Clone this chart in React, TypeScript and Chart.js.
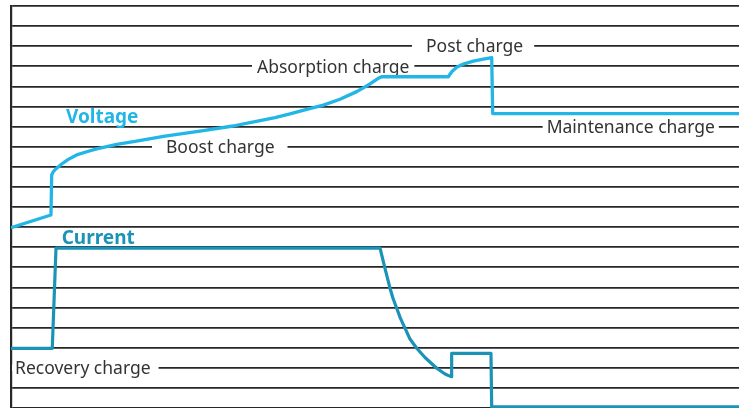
import React, { useEffect, useRef } from 'react';
import { Chart, registerables } from 'chart.js';

Chart.register(...registerables);

// Time axis (0–100 % of the charge cycle), level axis (0–20 grid steps)
const voltageTime = [0, 5.49, 5.59, 5.81, 6.28, 6.96, 7.87, 9.02, 10.4, 11.77, 13.15, 14.52, 17.03, 21.15, 25.96, 30.49, 32.83, 36.26, 38.32, 40.62, 42.9, 45.19, 47.49, 49.31, 50.45, 50.92, 60.07, 60.54, 61.22, 62.13, 63.5, 64.88, 66.03, 66.17, 100];
const voltageLevel = [8.97, 9.6, 11.59, 11.76, 11.93, 12.14, 12.37, 12.59, 12.75, 12.89, 13.0, 13.12, 13.26, 13.53, 13.78, 14.03, 14.2, 14.45, 14.63, 14.86, 15.07, 15.36, 15.74, 16.12, 16.4, 16.48, 16.48, 16.73, 16.95, 17.11, 17.26, 17.36, 17.43, 14.65, 14.65];

const currentTime = [0, 5.67, 6.18, 50.69, 51.03, 51.37, 51.72, 52.06, 52.47, 52.98, 53.5, 54.12, 54.81, 55.73, 56.87, 58.48, 59.62, 60.44, 60.53, 65.93, 66.03, 100];
const currentLevel = [2.97, 2.97, 7.95, 7.95, 7.46, 6.95, 6.45, 5.96, 5.46, 4.96, 4.46, 3.97, 3.43, 2.97, 2.51, 1.98, 1.69, 1.56, 2.72, 2.72, 0.06, 0.06];

const stageNames = ['Absorption charge', 'Post charge', 'Boost charge', 'Maintenance charge', 'Recovery charge'];
const stageTime = [33.79, 57.01, 21.29, 73.58, 0.55];
const stageLevel = [17, 18, 13, 14, 2];

const seriesNames = ['Voltage', 'Current'];
const seriesNameTime = [7.55, 6.96];
const seriesNameLevel = [14.16, 8.16];

const LEVEL_MIN = 0;
const LEVEL_MAX = 20;

const VOLT_COLOR = '#22b6e6';
const CURR_COLOR = '#1b93b6';

// gap paddings around stage labels (left, right)
const gapLeft = [5, 14, 14, 4, 3];
const gapRight = [5, 11, 13, 4, 8];

const labelPlugin = {
  id: 'stageLabels',
  beforeDatasetsDraw(chart: any) {
    const { ctx } = chart;
    const xs = chart.scales.x;
    const ys = chart.scales.y;
    ctx.save();
    ctx.font = '17.5px "Noto Sans"';
    ctx.textBaseline = 'alphabetic';
    ctx.textAlign = 'left';
    stageNames.forEach((t, i) => {
      const px = xs.getPixelForValue(stageTime[i]);
      const py = ys.getPixelForValue(stageLevel[i]);
      const w = ctx.measureText(t).width;
      ctx.fillStyle = '#ffffff';
      ctx.fillRect(px - gapLeft[i], py - 3, w + gapLeft[i] + gapRight[i], 6);
      ctx.fillStyle = '#333333';
      ctx.fillText(t, px, py + 6.2);
    });
    ctx.font = 'bold 19px "Noto Sans"';
    const colors = [VOLT_COLOR, CURR_COLOR];
    seriesNames.forEach((t, i) => {
      const px = xs.getPixelForValue(seriesNameTime[i]);
      const py = ys.getPixelForValue(seriesNameLevel[i]);
      ctx.fillStyle = colors[i];
      ctx.fillText(t, px, py);
    });
    ctx.restore();
  },
};

export default function App() {
  const ref = useRef<HTMLCanvasElement>(null);
  useEffect(() => {
    if (!ref.current) return;
    const chart = new Chart(ref.current, {
      type: 'line',
      data: {
        datasets: [
          {
            label: 'Voltage',
            data: voltageTime.map((t, i) => ({ x: t, y: voltageLevel[i] })),
            borderColor: VOLT_COLOR,
            borderWidth: 3.3,
            pointRadius: 0,
            tension: 0,
            borderJoinStyle: 'round',
            fill: false,
          },
          {
            label: 'Current',
            data: currentTime.map((t, i) => ({ x: t, y: currentLevel[i] })),
            borderColor: CURR_COLOR,
            borderWidth: 3.2,
            pointRadius: 0,
            tension: 0,
            borderJoinStyle: 'round',
            fill: false,
          },
        ],
      },
      options: {
        animation: false,
        responsive: true,
        maintainAspectRatio: false,
        layout: { padding: { left: 11, top: 6, right: 0, bottom: 0 } },
        plugins: { legend: { display: false }, tooltip: { enabled: false } },
        scales: {
          x: { type: 'linear', min: 0, max: 100, display: false },
          y: {
            type: 'linear',
            min: LEVEL_MIN,
            max: LEVEL_MAX,
            ticks: { display: false, stepSize: 1 },
            grid: { drawTicks: false, color: '#272727', lineWidth: 1.7 },
            border: { display: true, color: '#272727', width: 2.2 },
          },
        },
      },
      plugins: [labelPlugin],
    });
    return () => chart.destroy();
  }, []);
  return (
    <div style={{ position: 'fixed', left: 0, top: 0, width: 739, height: 408, background: '#fff' }}>
      <canvas ref={ref} />
    </div>
  );
}
